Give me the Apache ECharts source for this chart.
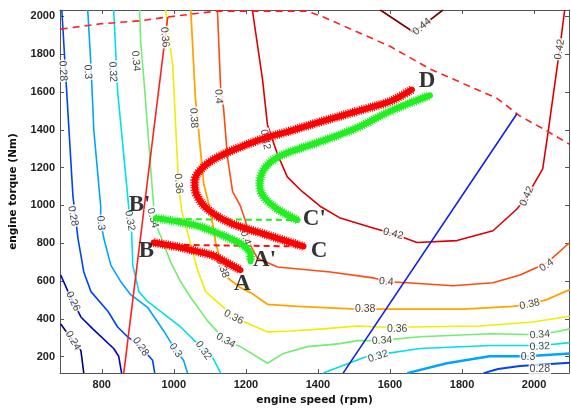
<!DOCTYPE html>
<html><head><meta charset="utf-8">
<script src="https://cdn.jsdelivr.net/npm/echarts@6/dist/echarts.min.js"></script>
<style>html,body{margin:0;padding:0;background:#fff}#c{width:571px;height:411px}</style>
</head><body><div id="c"></div>
<script>
const xTicks = [800, 1000, 1200, 1400, 1600, 1800, 2000];
const yTicks = [200, 400, 600, 800, 1000, 1200, 1400, 1600, 1800, 2000];

// contour lines (efficiency levels), [speed rpm, torque Nm]
const lv024 = [[686,373],[706,320],[742,233],[750,113]];
const lv026 = [[686,632],[706,545],[720,493],[742,410],[775,347],[833,243],[847,202],[855,113]];
const lv028a = [[689,2034],[720,1048],[734,824],[750,648],[770,544],[817,440],[844,357],[872,305],[908,253],[941,181],[947,113]];
const lv028b = [[1860,113],[1900,135],[1961,150],[2099,168]];
const lv030a = [[761,2034],[770,1738],[778,1395],[797,996],[797,907],[806,824],[825,684],[853,596],[880,528],[927,461],[972,336],[1005,233],[1027,181],[1038,113]];
const lv030b = [[1648,113],[1758,165],[1877,202],[1980,202],[2099,217]];
const lv032a = [[833,2034],[844,1602],[872,1048],[878,920],[883,855],[886,684],[903,544],[927,492],[963,440],[1019,357],[1066,269],[1102,217],[1130,113]];
const lv032b = [[1415,113],[1537,202],[1573,212],[1684,243],[1878,259],[2022,259],[2099,274]];
const lv034 = [[905,2034],[908,1862],[916,1686],[944,996],[941,944],[963,840],[991,700],[1019,596],[1047,513],[1094,388],[1144,285],[1185,253],[1260,165],[1304,217],[1371,253],[1462,269],[1509,285],[1567,285],[1684,305],[1878,321],[2016,316],[2071,336],[2099,347]];
const lv036 = [[977,2034],[997,1738],[1013,1115],[1022,970],[1038,856],[1055,736],[1066,658],[1088,544],[1138,461],[1166,409],[1260,331],[1324,336],[1415,347],[1509,362],[1573,357],[1664,357],[1850,362],[1997,383],[2099,414]];
const lv038 = [[1047,2034],[1060,1567],[1083,1115],[1102,970],[1116,804],[1135,669],[1149,617],[1185,565],[1213,539],[1260,477],[1343,466],[1509,451],[1664,451],[1803,451],[1941,466],[1988,477],[2035,502],[2099,555]];
const lv040 = [[1121,2034],[1130,1618],[1138,1515],[1149,1255],[1163,1074],[1185,996],[1199,918],[1213,788],[1232,721],[1288,674],[1434,648],[1553,617],[1592,596],[1648,591],[1775,575],[1886,591],[1961,632],[2035,695],[2099,804]];
const lv042 = [[1218,2034],[1246,1670],[1260,1426],[1288,1270],[1315,1151],[1356,1074],[1406,996],[1462,933],[1553,881],[1609,850],[1675,804],[1786,814],[1886,866],[1952,980],[1980,1048],[2024,1193],[2038,1375],[2052,1567],[2071,1826],[2085,2034]];
const lv044 = [[1573,2034],[1664,1919],[1690,1950],[1747,2034]];

// contour labels: [speed, torque, text]
const contourLabels = [
  [692,1712,'0.28'],[761,1707,'0.3'],[830,1707,'0.32'],[894,1764,'0.34'],[975,1890,'0.36'],
  [1055,1463,'0.38'],[1124,1577,'0.4'],[1254,1349,'0.42'],[1013,1115,'0.36'],[878,920,'0.32'],
  [941,933,'0.34'],[1135,669,'0.38'],[1199,829,'0.4'],
  [720,285,'0.24'],[720,493,'0.26'],[720,944,'0.28'],[797,907,'0.3'],[908,253,'0.28'],
  [1005,233,'0.3'],[1082,233,'0.32'],[1144,285,'0.34'],[1166,409,'0.36'],
  [1567,202,'0.32'],[1578,285,'0.34'],[1620,347,'0.36'],[1531,451,'0.38'],[1590,596,'0.4'],
  [1609,850,'0.42'],[2016,316,'0.34'],[2016,253,'0.32'],[1983,200,'0.3'],[2016,134,'0.28'],
  [1988,477,'0.38'],[2035,684,'0.4'],[1980,1048,'0.42'],[2071,1826,'0.42'],[1689,1946,'0.44']
];
const contourLabelAngles = [-87,-87,-87,-85,-85,-87,-87,-80,-85,-80,-75,-70,-72,-60,-65,-80,-85,-55,-55,-55,-30,-28,18,3,0,0,-5,-15,5,3,0,0,12,35,65,80,40];

// full-load curve and straight reference lines
const fullLoad = [[686,1933],[797,1961],[908,1977],[983,1997],[1074,2018],[1121,2028],[1370,2028],[1415,1997],[1600,1842],[1711,1722],[1897,1567],[1961,1473],[2035,1395],[2099,1323]];
const redLimit = [[861,113],[983,1997]];
const blueLine = [[1470,113],[1952,1484]];

// trajectories
const redBA = [[944,804],[1019,778],[1110,736],[1185,658]];
const redBC = [[944,793],[1360,783]];
const redCD = [[1360,783],[1249,850],[1157,907],[1094,980],[1063,1058],[1058,1125],[1074,1188],[1121,1255],[1232,1343],[1324,1395],[1415,1447],[1509,1499],[1601,1551],[1661,1613]];
const grnBA = [[950,933],[1066,892],[1157,824],[1193,788],[1213,736],[1213,705]];
const grnBC = [[950,928],[1351,923]];
const grnCD = [[1343,923],[1288,980],[1249,1048],[1238,1115],[1246,1177],[1268,1229],[1304,1270],[1415,1343],[1509,1411],[1601,1499],[1711,1582]];

// point letters: [speed, torque, text]
const pointLetters = [[1190,585,'A'],[1252,712,"A'"],[924,760,'B'],[905,1003,"B'"],[1403,760,'C'],[1390,926,"C'"],[1703,1660,'D']];

const chart = echarts.init(document.getElementById('c'), null, {renderer:'canvas'});

function line(data, color, width, z, type) {
  return {type:'line', data:data, symbol:'none', silent:true, z:z, animation:false,
    lineStyle:{color:color, width:width, type:type||'solid', cap:'butt', join:'round'}};
}
function traj(data, color, smooth) {
  return [
    {type:'line', data:data, symbol:'none', silent:true, z:5, smooth:smooth, animation:false,
      lineStyle:{color:color, width:6, cap:'round', join:'round'}},
    {type:'line', data:data, symbol:'none', silent:true, z:5, smooth:smooth, animation:false,
      lineStyle:{color:color, width:9, type:[1,1.3], cap:'butt'}}
  ];
}

const cols = {
  '0.24':'#00007a','0.26':'#0000c8','0.28':'#0044f0','0.3':'#00a4ff','0.32':'#00e0e8',
  '0.34':'#72ee72','0.36':'#eeee00','0.38':'#ffa400','0.4':'#ff4a10','0.42':'#dd0000','0.44':'#7a0000'
};

const series = [
  line(lv024, cols['0.24'], 1.6, 2),
  line(lv026, cols['0.26'], 1.6, 2),
  line(lv028a, cols['0.28'], 1.6, 2),
  line(lv028b, cols['0.28'], 2, 2),
  line(lv030a, cols['0.3'], 1.6, 2),
  line(lv030b, cols['0.3'], 2.4, 2),
  line(lv032a, cols['0.32'], 1.6, 2),
  line(lv032b, cols['0.32'], 1.6, 2),
  line(lv034, cols['0.34'], 1.6, 2),
  line(lv036, cols['0.36'], 1.6, 2),
  line(lv038, cols['0.38'], 1.8, 2),
  line(lv040, cols['0.4'], 1.6, 2),
  line(lv042, cols['0.42'], 1.6, 2),
  line(lv044, cols['0.44'], 1.6, 2),
  line(fullLoad, '#ff2020', 1.6, 3, [7,5]),
  line(redLimit, '#ff2020', 1.6, 3),
  line(blueLine, '#1020e0', 1.6, 3),
  {type:'scatter', silent:true, z:4, symbolSize:1, itemStyle:{color:'rgba(0,0,0,0)'}, animation:false,
    data: contourLabels.map((d,i)=>({value:[d[0],d[1]], name:d[2],
      label:{rotate:contourLabelAngles[i]}})),
    label:{show:true, position:'inside', formatter:p=>p.name, color:'#111', fontSize:10.5,
      fontFamily:'Liberation Sans', backgroundColor:'#fff', padding:[0,1], lineHeight:11}
  },
  line(redBC, '#ff1010', 2, 4, [6,4]),
  line(grnBC, '#22ee22', 2, 4, [6,4]),
  ...traj(redBA, '#ff0000', false),
  ...traj(redCD, '#ff0000', 0.35),
  ...traj(grnBA, '#22ee22', 0.3),
  ...traj(grnCD, '#22ee22', 0.35),
  {type:'scatter', silent:true, z:6, symbolSize:1, itemStyle:{color:'rgba(0,0,0,0)'}, animation:false,
    data: pointLetters.map(d=>({value:[d[0],d[1]], name:d[2]})),
    label:{show:true, position:'inside', formatter:p=>p.name, color:'#000', fontSize:23,
      fontWeight:'bold', fontFamily:'Liberation Serif'}
  }
];

const axisFont = {fontFamily:'Liberation Sans', fontWeight:'bold', fontSize:11, color:'#222', formatter:v=>String(v)};
chart.setOption({
  animation:false,
  backgroundColor:'#fff',
  grid:{left:60, right:2, top:10, bottom:31, show:false},
  xAxis:[
    {type:'value', min:684, max:2097, position:'bottom',
      axisLine:{show:true, onZero:false, lineStyle:{color:'#555', width:1}},
      axisTick:{show:true, inside:true, length:4, customValues:xTicks, lineStyle:{color:'#555'}},
      axisLabel:{customValues:xTicks, margin:6, ...axisFont},
      splitLine:{show:false},
      name:'engine speed (rpm)', nameLocation:'middle', nameGap:20,
      nameTextStyle:{fontFamily:'DejaVu Sans', fontWeight:'bold', fontSize:10.5, color:'#111'}},
    {type:'value', min:684, max:2097, position:'top',
      axisLine:{show:true, onZero:false, lineStyle:{color:'#555', width:1}},
      axisTick:{show:true, inside:true, length:4, customValues:xTicks, lineStyle:{color:'#555'}},
      axisLabel:{show:false}, splitLine:{show:false}}
  ],
  yAxis:[
    {type:'value', min:113, max:2034, position:'left',
      axisLine:{show:true, onZero:false, lineStyle:{color:'#555', width:1}},
      axisTick:{show:true, inside:true, length:4, customValues:yTicks, lineStyle:{color:'#555'}},
      axisLabel:{customValues:yTicks, margin:5, ...axisFont},
      splitLine:{show:false},
      name:'engine torque (Nm)', nameLocation:'middle', nameGap:41,
      nameTextStyle:{fontFamily:'DejaVu Sans', fontWeight:'bold', fontSize:10.5, color:'#111'}},
    {type:'value', min:113, max:2034, position:'right',
      axisLine:{show:true, onZero:false, lineStyle:{color:'#555', width:1}},
      axisTick:{show:true, inside:true, length:4, customValues:yTicks, lineStyle:{color:'#555'}},
      axisLabel:{show:false}, splitLine:{show:false}}
  ],
  series: series
});
</script></body></html>
